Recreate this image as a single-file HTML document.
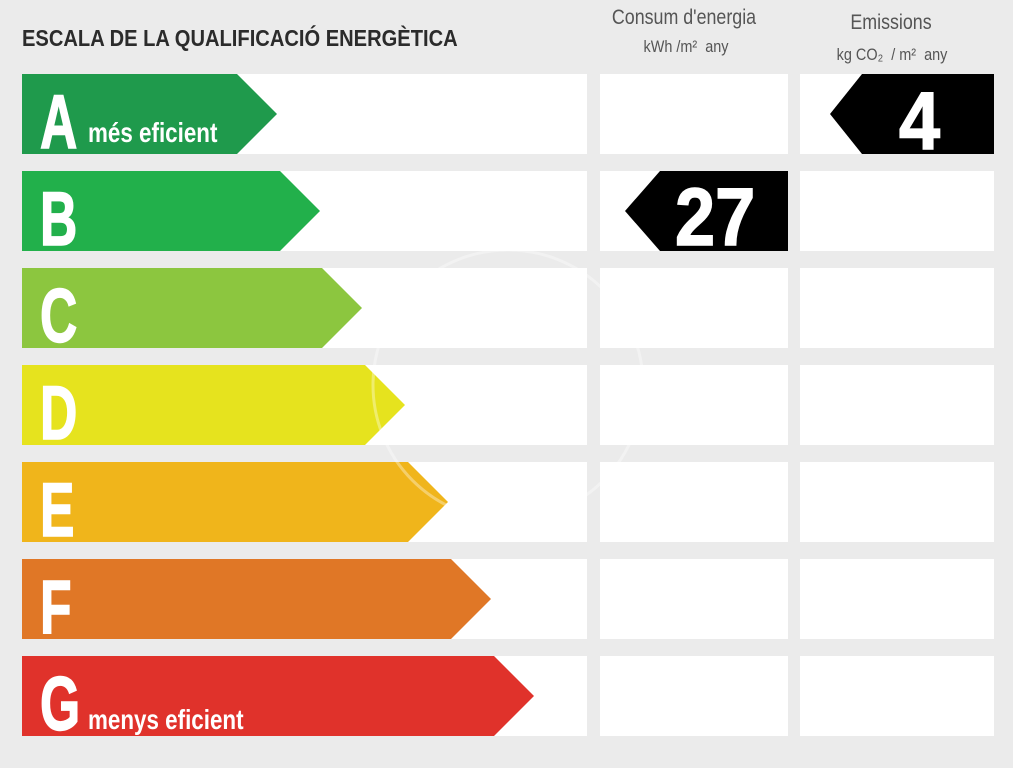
<!DOCTYPE html>
<html><head><meta charset="utf-8"><style>
html,body{margin:0;padding:0;background:#ebebeb;}
svg{display:block}
text{font-family:"Liberation Sans",sans-serif;}
</style></head><body>
<svg width="1013" height="768" viewBox="0 0 1013 768" xmlns="http://www.w3.org/2000/svg">
<rect x="0" y="0" width="1013" height="768" fill="#ebebeb"/>
<g transform="translate(22,46) scale(0.875,1)"><text x="0" y="0" font-size="23" font-weight="bold" fill="#2b2b2b">ESCALA DE LA QUALIFICACIÓ ENERGÈTICA</text></g>
<g fill="#555" font-size="21">
<text text-anchor="middle" transform="translate(684,24) scale(0.85,1)">Consum d'energia</text>
<text text-anchor="middle" font-size="17" transform="translate(686,52) scale(0.85,1)">kWh /m² &#160;any</text>
<text text-anchor="middle" transform="translate(891,29) scale(0.85,1)">Emissions</text>
<text text-anchor="middle" font-size="17" transform="translate(892,60) scale(0.85,1)">kg CO₂ &#160;/ m² &#160;any</text>
</g>
<g fill="#fff">
<rect x="22" y="74" width="565" height="80"/><rect x="600" y="74" width="188" height="80"/><rect x="800" y="74" width="194" height="80"/>
<rect x="22" y="171" width="565" height="80"/><rect x="600" y="171" width="188" height="80"/><rect x="800" y="171" width="194" height="80"/>
<rect x="22" y="268" width="565" height="80"/><rect x="600" y="268" width="188" height="80"/><rect x="800" y="268" width="194" height="80"/>
<rect x="22" y="365" width="565" height="80"/><rect x="600" y="365" width="188" height="80"/><rect x="800" y="365" width="194" height="80"/>
<rect x="22" y="462" width="565" height="80"/><rect x="600" y="462" width="188" height="80"/><rect x="800" y="462" width="194" height="80"/>
<rect x="22" y="559" width="565" height="80"/><rect x="600" y="559" width="188" height="80"/><rect x="800" y="559" width="194" height="80"/>
<rect x="22" y="656" width="565" height="80"/><rect x="600" y="656" width="188" height="80"/><rect x="800" y="656" width="194" height="80"/>
</g>
<polygon points="22,74 237,74 277,114 237,154 22,154" fill="#1f9a4c"/>
<polygon points="22,171 280,171 320,211 280,251 22,251" fill="#22b04b"/>
<polygon points="22,268 322,268 362,308 322,348 22,348" fill="#8cc63f"/>
<polygon points="22,365 365,365 405,405 365,445 22,445" fill="#e6e31e"/>
<polygon points="22,462 408,462 448,502 408,542 22,542" fill="#f0b51b"/>
<polygon points="22,559 451,559 491,599 451,639 22,639" fill="#e07726"/>
<polygon points="22,656 494,656 534,696 494,736 22,736" fill="#e0322b"/>
<g fill="#fff" stroke="#fff" stroke-width="1.5" font-weight="bold" font-size="76">
<text transform="translate(40,148) scale(0.68,1)">A</text>
<text transform="translate(40,245) scale(0.68,1)">B</text>
<text transform="translate(40,342) scale(0.68,1)">C</text>
<text transform="translate(40,439) scale(0.68,1)">D</text>
<text transform="translate(40,536) scale(0.68,1)">E</text>
<text transform="translate(40,633) scale(0.68,1)">F</text>
<text transform="translate(40,730) scale(0.68,1)">G</text>
</g>
<g fill="#fff" font-weight="bold" font-size="28">
<text transform="translate(88,142) scale(0.8,1)">més eficient</text>
<text transform="translate(88,729) scale(0.8,1)">menys eficient</text>
</g>
<polygon points="625,211 660,171 788,171 788,251 660,251" fill="#000"/>
<polygon points="830,114 862,74 994,74 994,154 862,154" fill="#000"/>
<g fill="#fff" stroke="#fff" stroke-width="1.5" font-weight="bold" font-size="82">
<text transform="translate(675,245) scale(0.88,1)">27</text>
<text transform="translate(899,149) scale(0.9,1)">4</text>
</g>
<circle cx="508" cy="385" r="135" fill="none" stroke="#fff" stroke-opacity="0.35" stroke-width="3"/>
</svg>
</body></html>
